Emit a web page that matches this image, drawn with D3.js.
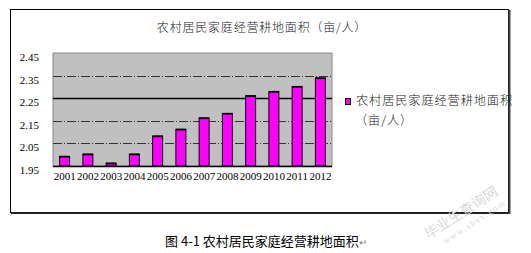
<!DOCTYPE html>
<html><head><meta charset="utf-8">
<script src="https://cdn.jsdelivr.net/npm/d3@7"></script>
<style>
html,body{margin:0;padding:0;background:#fff;}
svg{display:block;}
</style></head>
<body>
<svg id="c" width="531" height="253"></svg>
<script>
const title = "农村居民家庭经营耕地面积（亩/人）";
const seriesName = ["农村居民家庭经营耕地面积", "（亩/人）"];
const caption = "图 4-1 农村居民家庭经营耕地面积";
const years = ["2001","2002","2003","2004","2005","2006","2007","2008","2009","2010","2011","2012"];
const values = [1.993, 2.003, 1.963, 2.003, 2.083, 2.113, 2.163, 2.183, 2.261, 2.280, 2.302, 2.340];
const yTicks = [1.95, 2.05, 2.15, 2.25, 2.35, 2.45];
const yTickLabels = ["1.95", "2.05", "2.15", "2.25", "2.35", "2.45"];

const svg = d3.select("#c");
const serif = "'Liberation Serif','Times New Roman',serif";
const cjk = "'Noto Sans CJK SC','Noto Sans',sans-serif";

// outer frame
svg.append("rect").attr("x",10.5).attr("y",9.5).attr("width",498).attr("height",203)
  .attr("fill","#fff").attr("stroke","#000").attr("stroke-width",1);
svg.append("line").attr("x1",11).attr("x2",510).attr("y1",213).attr("y2",213).attr("stroke","#222").attr("stroke-width",2);
svg.append("line").attr("x1",509.5).attr("x2",509.5).attr("y1",10).attr("y2",214).attr("stroke","#444").attr("stroke-width",2);

// title
svg.append("text").attr("x",262).attr("y",32).attr("text-anchor","middle")
  .attr("font-family",cjk).attr("font-size",12).attr("font-weight",300).attr("letter-spacing",0.8).attr("fill","#222")
  .text(title);

const L=53, R=332, T=53, B=166;
const x = d3.scaleBand().domain(years).range([L,R]).paddingInner(0.57).paddingOuter(0.285);
const y = d3.scaleLinear().domain([1.95,2.45]).range([B,T]);

// plot background
svg.append("rect").attr("x",L).attr("y",T).attr("width",R-L).attr("height",B-T)
  .attr("fill","#c0c0c0").attr("stroke","#8a8a8a").attr("stroke-width",1);

// gridlines
svg.append("g").selectAll("line").data(yTicks.filter(v=>v>1.95 && v<2.45)).join("line")
  .attr("x1",L).attr("x2",R).attr("y1",d=>Math.round(y(d))+0.5).attr("y2",d=>Math.round(y(d))+0.5)
  .attr("stroke",d=>d===2.25?"#000":"#333")
  .attr("stroke-width",d=>d===2.25?1.6:1)
  .attr("stroke-dasharray",d=>d===2.25?null:"9,2,1,2");

// bars
svg.append("g").selectAll("rect").data(values).join("rect")
  .attr("x",(d,i)=>x(years[i])).attr("width",x.bandwidth())
  .attr("y",d=>y(d)).attr("height",d=>B-y(d))
  .attr("fill","#ff00ff").attr("stroke","#000").attr("stroke-width",1);
svg.append("g").selectAll("line").data(values).join("line")
  .attr("x1",(d,i)=>x(years[i])).attr("x2",(d,i)=>x(years[i])+x.bandwidth())
  .attr("y1",d=>y(d)+0.5).attr("y2",d=>y(d)+0.5).attr("stroke","#000").attr("stroke-width",1.5);

// x axis line
svg.append("line").attr("x1",L).attr("x2",R).attr("y1",B+0.5).attr("y2",B+0.5).attr("stroke","#000").attr("stroke-width",1.5);

// y axis labels
const yAxis = svg.append("g").attr("transform",`translate(${L-14},4)`)
  .call(d3.axisLeft(y).tickValues(yTicks).tickFormat((d,i)=>yTickLabels[i]).tickSize(0).tickPadding(0));
yAxis.select(".domain").remove();
yAxis.selectAll("text").attr("font-family",serif).attr("font-size",11).attr("fill","#000");

// x axis labels
const xAxis = svg.append("g").attr("transform",`translate(0,${B+4})`)
  .call(d3.axisBottom(x).tickSize(0).tickPadding(0));
xAxis.select(".domain").remove();
xAxis.selectAll("text").attr("font-family",serif).attr("font-size",11).attr("fill","#000").attr("dy","0.9em");

// legend
svg.append("rect").attr("x",345.5).attr("y",98.5).attr("width",5).attr("height",6)
  .attr("fill","#ff00ff").attr("stroke","#000").attr("stroke-width",1);
svg.append("text").attr("x",356).attr("y",105).attr("font-family",cjk).attr("font-size",12.2).attr("font-weight",300)
  .attr("letter-spacing",0.9).attr("fill","#222").text(seriesName[0]);
svg.append("text").attr("x",355).attr("y",125).attr("font-family",cjk).attr("font-size",12.2).attr("font-weight",300)
  .attr("letter-spacing",0.9).attr("fill","#222").text(seriesName[1]);

// caption
const cap = svg.append("text").attr("x",165).attr("y",246).attr("font-family",cjk).attr("font-size",13).attr("fill","#000");
cap.append("tspan").text(caption);
cap.append("tspan").attr("fill","#888").attr("font-size",10).text("↵");

// watermark
const wm = svg.append("g").attr("transform","translate(466,220) rotate(-33)").attr("fill","#d9d9d9");
wm.append("text").attr("text-anchor","middle").attr("font-family",cjk).attr("font-size",14).attr("y",-4).text("毕业生查询网");
wm.append("text").attr("text-anchor","middle").attr("font-family",serif).attr("font-size",9).attr("letter-spacing",1.5).attr("y",9).attr("x",6).text("www.sbvv.com");
</script>
</body></html>
